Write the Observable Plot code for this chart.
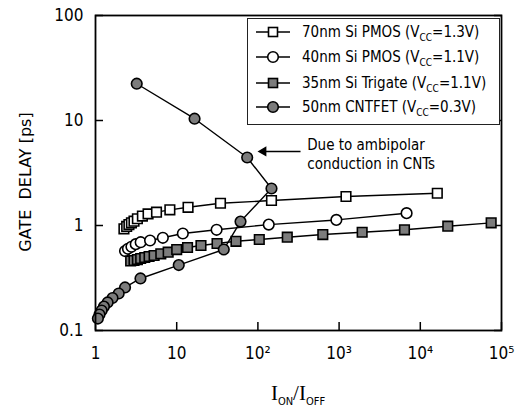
<!DOCTYPE html>
<html><head><meta charset="utf-8">
<script src="https://cdn.jsdelivr.net/npm/d3@7"></script>
<script src="https://cdn.jsdelivr.net/npm/@observablehq/plot@0.6"></script>
<style>
body{margin:0;background:#fff;}
#wrap{position:relative;width:526px;height:416px;font-family:"DejaVu Sans Condensed","DejaVu Sans",sans-serif;color:#000;}
#legend{position:absolute;left:247px;top:18px;width:253px;height:107px;border:1px solid #222;box-sizing:border-box;background:#fff;}
.row{position:absolute;left:0;height:24px;width:250px;font-size:15px;line-height:24px;white-space:nowrap;}
.row svg{position:absolute;left:7px;top:2px;}
.row .lbl{position:absolute;left:54px;top:0;}
.sub{font-size:10px;position:relative;top:4px;}
#xlabel{position:absolute;top:381px;left:298px;transform:translateX(-50%);white-space:nowrap;font-family:"Liberation Serif",serif;font-size:21px;line-height:24px;}
#xlabel .s{font-family:"DejaVu Sans Condensed","DejaVu Sans",sans-serif;font-size:11px;position:relative;top:5px;}
</style>
</head><body>
<div id="wrap"></div>
<script>
// ---- data ----
const pmos70X = [2.24,2.42,2.58,2.77,2.98,3.28,3.78,4.44,5.64,8.24,13.8,34.6,147,1216,16200];
const pmos70Y = [0.93,0.98,1.02,1.06,1.10,1.16,1.23,1.29,1.34,1.41,1.49,1.63,1.73,1.89,2.03];

const pmos40X = [2.31,2.51,2.77,3.13,3.60,4.70,6.75,11.9,31.0,136,925,6780];
const pmos40Y = [0.571,0.60,0.627,0.664,0.693,0.72,0.764,0.839,0.91,1.02,1.13,1.31];

const trigateX = [2.71,2.98,3.28,3.60,4.04,4.57,5.27,6.37,7.85,10.0,13.6,19.9,31.4,53.7,104,230,630,1923,6385,21800,74600];
const trigateY = [0.459,0.464,0.474,0.485,0.496,0.507,0.518,0.537,0.557,0.59,0.617,0.645,0.674,0.707,0.736,0.774,0.82,0.863,0.91,0.985,1.06];

const cntX = [3.22,16.6,73.8,147,61.1,38.0,10.6,3.58,2.31,1.93,1.62,1.41,1.27,1.19,1.12,1.07];
const cntY = [22.4,10.4,4.44,2.25,1.09,0.591,0.42,0.313,0.257,0.225,0.204,0.185,0.169,0.155,0.142,0.130];

const seriesNames = ["70nm Si PMOS","40nm Si PMOS","35nm Si Trigate","50nm CNTFET"];
const seriesVcc = ["1.3V","1.1V","1.1V","0.3V"];
const seriesSymbol = ["square","circle","square","circle"];
const seriesFill = ["white","white","#7c7c7c","#7c7c7c"];

const xTicks = [1,10,100,1000,10000,100000];
const xTickLabels = ["1","10","10\u00b2","10\u00b3","10\u2074","10\u2075"];
const yTicks = [0.1,1,10,100];
const yTickLabels = ["0.1","1","10","100"];

const yTitle = ["GATE\u00a0 DELAY [ps]"];
const noteText = ["Due to ambipolar\nconduction in CNTs"];
const noteX = [405], noteY = [4.9];
const arrowX1 = [335], arrowX2 = [117], arrowY = [5.07];

// ---- build ----
const xs = [pmos70X, pmos40X, trigateX, cntX];
const ys = [pmos70Y, pmos40Y, trigateY, cntY];
const rows = xs.map((xa, k) => xa.map((x, i) => ({x, y: ys[k][i]})));

const seriesMarks = rows.flatMap((r, k) => [
  Plot.line(r, {x: "x", y: "y", stroke: "black", strokeWidth: 1.4}),
  Plot.dot(r, {x: "x", y: "y", symbol: seriesSymbol[k], r: seriesSymbol[k] === "square" ? 5.4 : 5.3,
    fill: seriesFill[k], stroke: "black", strokeWidth: 1.6})
]);

const lookup = (ticks, labels) => (d) => {
  const j = ticks.findIndex(t => Math.abs(Math.log10(t) - Math.log10(d)) < 1e-6);
  return j >= 0 ? labels[j] : "";
};

const chart = Plot.plot({
  width: 526, height: 416,
  marginLeft: 95, marginRight: 25, marginTop: 15, marginBottom: 86,
  style: {fontFamily: "'DejaVu Sans Condensed','DejaVu Sans',sans-serif", fontSize: "17px", color: "black", background: "white"},
  x: {type: "log", domain: [1, 1e5]},
  y: {type: "log", domain: [0.1, 100]},
  marks: [
    Plot.axisX({ticks: xTicks, tickSize: 8, dy: -8, tickFormat: () => "", label: null, strokeWidth: 1.5}),
    Plot.axisX({ticks: xTicks, tickSize: 0, tickPadding: 16, tickFormat: lookup(xTicks, xTickLabels), label: null, fontSize: 17}),
    Plot.axisY({ticks: yTicks, tickSize: 8, dx: 8, tickFormat: () => "", label: null, strokeWidth: 1.5}),
    Plot.axisY({anchor: "right", ticks: yTicks, tickSize: 8, dx: -8, tickFormat: () => "", label: null, strokeWidth: 1.5}),
    Plot.axisY({ticks: yTicks, tickSize: 0, tickPadding: 12, tickFormat: lookup(yTicks, yTickLabels), label: null, fontSize: 17}),
    Plot.text(yTitle, {frameAnchor: "left", textAnchor: "middle", rotate: -90, dx: -70, dy: 9, fontSize: 16, fontFamily: "'DejaVu Sans',sans-serif", text: d => d}),
    ...seriesMarks,
    Plot.link(arrowX1, {x1: d => d, x2: (d, i) => arrowX2[i], y1: (d, i) => arrowY[i], y2: (d, i) => arrowY[i], stroke: "black", strokeWidth: 1.5}),
    Plot.dot(arrowX2, {x: d => d, y: (d, i) => arrowY[i], symbol: "triangle", rotate: -90, r: 3.8, fill: "black", stroke: "none"}),
    Plot.text(noteText, {x: (d, i) => noteX[i], y: (d, i) => noteY[i], text: d => d, textAnchor: "start", lineAnchor: "middle", lineHeight: 1.27, fontSize: 15}),
    Plot.frame({stroke: "black", strokeWidth: 1.8})
  ]
});

const wrap = document.getElementById("wrap");
wrap.appendChild(chart);

// legend
const legend = document.createElement("div");
legend.id = "legend";
const rowTops = [1, 26, 51.5, 76];
seriesNames.forEach((name, k) => {
  const row = document.createElement("div");
  row.className = "row";
  row.style.top = rowTops[k] + "px";
  const isSq = seriesSymbol[k] === "square";
  const shape = isSq
    ? `<rect x="13.5" y="5.5" width="9" height="9" fill="${seriesFill[k]}" stroke="black" stroke-width="1.6"/>`
    : `<circle cx="18" cy="10" r="5.3" fill="${seriesFill[k]}" stroke="black" stroke-width="1.6"/>`;
  row.innerHTML = `<svg width="40" height="20"><line x1="1" x2="35" y1="10" y2="10" stroke="black" stroke-width="1.4"/>${shape}</svg>` +
    `<span class="lbl">${name} (V<span class="sub">CC</span>=${seriesVcc[k]})</span>`;
  legend.appendChild(row);
});
wrap.appendChild(legend);

const xl = document.createElement("div");
xl.id = "xlabel";
xl.innerHTML = `I<span class="s">ON</span>/I<span class="s">OFF</span>`;
wrap.appendChild(xl);
</script>
</body></html>
